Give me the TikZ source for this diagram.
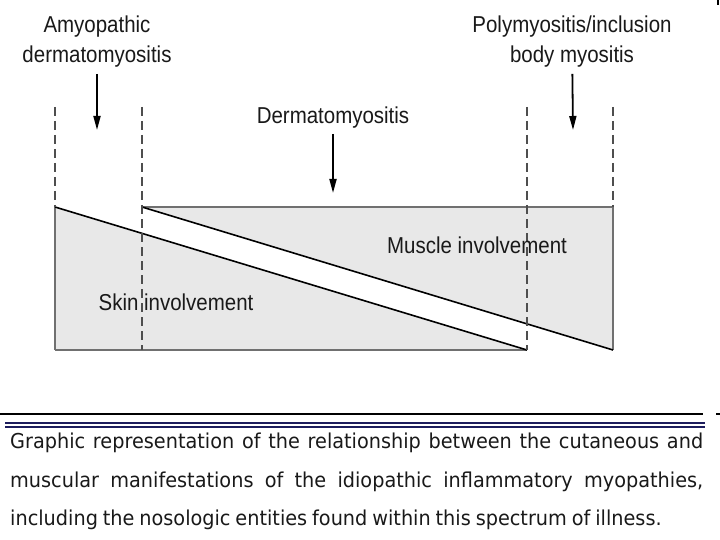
\documentclass[tikz,border=0pt]{standalone}
\usepackage{fontspec}
\setmainfont{Liberation Sans}[FakeStretch=0.89]
\newfontfamily\capfont[FakeStretch=0.94, WordSpace=0.8]{DejaVu Sans}
\usetikzlibrary{arrows.meta,positioning}
\definecolor{boxgray}{RGB}{232,232,232}
\definecolor{edgegray}{RGB}{112,112,112}
\definecolor{rulenavy}{RGB}{28,28,92}

\begin{document}
\begin{tikzpicture}[
                    x=1bp, y=-1bp,
                    every node/.style={
                        inner sep=0pt,
                        align=center,
                        text=black!90,
                        font=\fontsize{23bp}{30bp}\selectfont
                    },
                    area/.style={fill=boxgray},
                    rim/.style={draw=edgegray, line width=2.5bp},
                    slope/.style={draw=black, line width=1.6bp},
                    limit/.style={draw=edgegray!70!black, line width=1.3bp, dash pattern=on 9bp off 5bp},
                    arr/.style={draw=black, line width=1.8bp, -{Triangle[width=7bp,length=14bp]}},
                    capline/.style={anchor=base west, font=\capfont\fontsize{20.5bp}{24bp}\selectfont}
                ]
                    \useasboundingbox (0,0) rectangle (720,540);

                    % Corners of the two areas
                    \coordinate (s1) at (55,207);
                    \coordinate (s2) at (527,350);
                    \coordinate (s3) at (55,350);
                    \coordinate (m1) at (142,207);
                    \coordinate (m2) at (613,207);
                    \coordinate (m3) at (613,350);

                    \fill[area] (s1) -- (s2) -- (s3) -- cycle;
                    \fill[area] (m1) -- (m2) -- (m3) -- cycle;
                    \draw[rim, line width=2bp] (s1) -- (s3);
                    \draw[rim] (s3) -- (s2);
                    \draw[rim] (m1) -- (m2);
                    \draw[rim, line width=2bp] (m2) -- (m3);
                    \draw[slope] (s1) -- (s2);
                    \draw[slope] (m1) -- (m3);

                    % Borders between the entities
                    \foreach \x/\y in {55/207, 142/350, 527/350, 613/207}
                        \draw[limit] (\x,107) -- (\x,\y);

                    % Labels
                    \node (amyo) at (97,42) {Amyopathic\\dermatomyositis};
                    \node (derm) at (333,118) {Dermatomyositis};
                    \node (poly) at (572,42) {Polymyositis/inclusion\\body myositis};
                    \node (muscle) at (477,245) {Muscle involvement};
                    \node (skin) at (176,302) {Skin involvement};

                    \coordinate (amyotip) at (97,130);
                    \coordinate (dermtip) at (333,193);
                    \coordinate (polytip) at (573,130);

                    % Arrows
                    \draw[arr, shorten <=6bp] (amyo) -- (amyotip);
                    \draw[arr, shorten <=5bp] (derm) -- (dermtip);
                    \draw[arr, shorten <=6bp] (poly) -- (polytip);

                    % Caption rules
                    \draw[line width=2.5bp] (0,414) -- (703,414);
                    \draw[line width=2bp] (716,414) -- (720,414);
                    \draw[line width=2.5bp] (718,0) -- (718,5);
                    \draw[rulenavy, line width=1.3bp] (5,423) -- (705,423);
                    \draw[rulenavy, line width=1.3bp] (5,427) -- (705,427);

                    % Caption
                    \node[capline] (cap1) at (10,448) {\makebox[693bp][s]{Graphic representation of the relationship between the cutaneous and}};
                    \node[capline] (cap2) at (10,487) {\makebox[693bp][s]{muscular manifestations of the idiopathic inflammatory myopathies,}};
                    \node[capline] (cap3) at (10,525) {including the nosologic entities found within this spectrum of illness.};
                \end{tikzpicture}
\end{document}
